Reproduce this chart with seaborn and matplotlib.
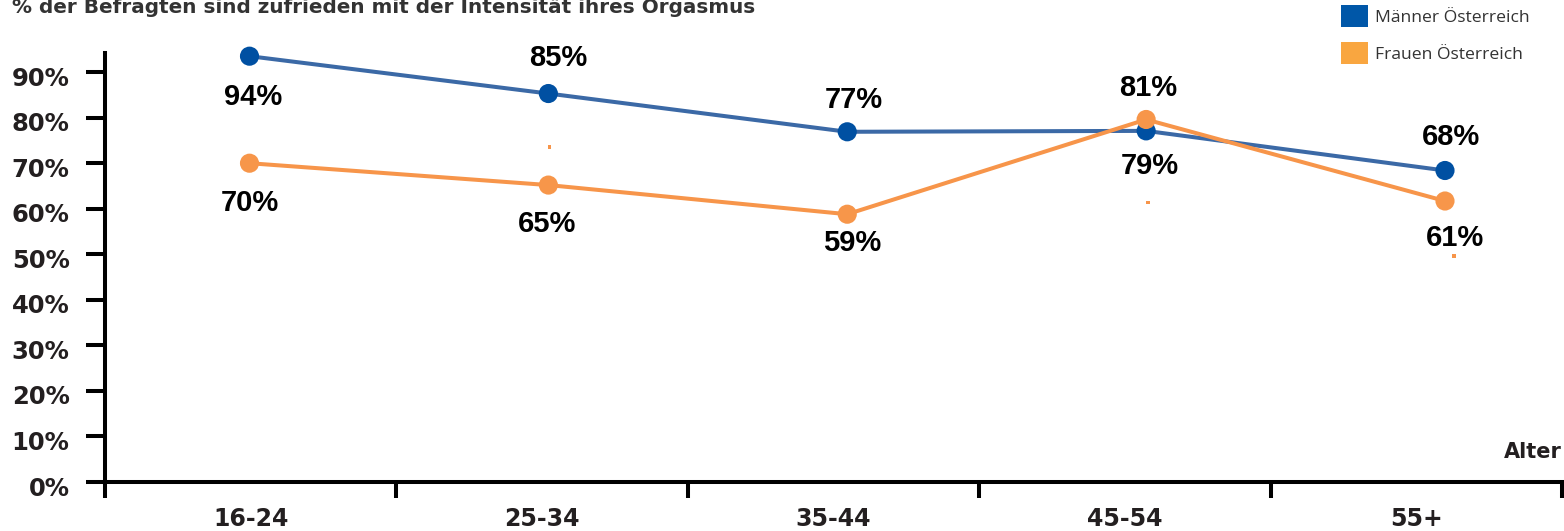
import numpy as np
import pandas as pd
import matplotlib
matplotlib.use("Agg")
import matplotlib.pyplot as plt
import seaborn as sns
from matplotlib.patches import Patch
from matplotlib.transforms import ScaledTranslation

# ---------------- data ----------------
categories = ["16-24", "25-34", "35-44", "45-54", "55+"]
men_values = [93.5, 85.3, 76.9, 77.1, 68.4]
women_values = [70.0, 65.2, 58.8, 79.6, 61.7]
men_labels = ["94%", "85%", "77%", "79%", "68%"]
women_labels = ["70%", "65%", "59%", "81%", "61%"]
series_names = ["Männer Österreich", "Frauen Österreich"]
y_ticks = [0, 10, 20, 30, 40, 50, 60, 70, 80, 90]
y_tick_labels = ["0%", "10%", "20%", "30%", "40%", "50%", "60%", "70%", "80%", "90%"]
title_text = "% der Befragten sind zufrieden mit der Intensität ihres Orgasmus"
x_axis_label = "Alter"

# ---------------- style ----------------
sns.set_style("white")
plt.rcParams["font.family"] = ["DejaVu Sans"]

line_colors = {series_names[0]: "#3b69a6", series_names[1]: "#f7954a"}
marker_colors = {series_names[0]: "#0050a2", series_names[1]: "#f7964a"}
legend_colors = ["#0057a8", "#f9a640"]
tick_color = "#231f20"

# label offsets in pixels (dx right, dy down) relative to each point
men_label_offsets = [(4, 41), (10, -36), (7, -32), (4, 35), (6, -33)]
women_label_offsets = [(0, 40), (-1, 39), (5, 29), (2, -31), (10, 37)]
women_dash_offsets = {1: (1, -38), 3: (2, 83), 4: (9, 55)}

W, H, DPI = 1564, 531, 100
fig = plt.figure(figsize=(W / DPI, H / DPI), dpi=DPI)
ax_left, ax_right, ax_bottom, ax_top = 105, 1562, 482, 53
ax = fig.add_axes([ax_left / W, 1 - ax_bottom / H, (ax_right - ax_left) / W, (ax_bottom - ax_top) / H])

pos = np.arange(len(categories))
df = pd.DataFrame({
    "pos": np.concatenate([pos, pos]),
    "value": men_values + women_values,
    "series": [series_names[0]] * len(pos) + [series_names[1]] * len(pos),
})

sns.lineplot(data=df, x="pos", y="value", hue="series", palette=line_colors,
             linewidth=2.9, legend=False, ax=ax, sort=False, zorder=2)
sns.scatterplot(data=df, x="pos", y="value", hue="series", palette=marker_colors,
                s=190, edgecolor="none", linewidth=0, legend=False, ax=ax, zorder=3,
                clip_on=False)
for ln in ax.lines:
    ln.set_clip_on(False)

# axis limits: first point at ~249.5 px, last at ~1445 px
first_px, last_px = 249.5, 1445
unit = (last_px - first_px) / (len(categories) - 1)
x0 = -(first_px - ax_left) / unit
x1 = (len(categories) - 1) + (ax_right - last_px) / unit
ax.set_xlim(x0, x1)
ax.set_ylim(0, 94.2)

# spines
for s in ["top", "right"]:
    ax.spines[s].set_visible(False)
for s in ["left", "bottom"]:
    ax.spines[s].set_linewidth(2.9)
    ax.spines[s].set_color("black")

# y ticks
ax.set_yticks(y_ticks)
ax.set_yticklabels(y_tick_labels)
ax.tick_params(axis="y", which="major", left=True, direction="out", length=13.5, width=2.9,
               color="black", pad=12, labelsize=17.5, labelcolor=tick_color)
for lab in ax.get_yticklabels():
    lab.set_fontweight("bold")
    lab.set_transform(lab.get_transform() + ScaledTranslation(0, -4 / DPI, fig.dpi_scale_trans))

# x ticks: boundaries as major ticks, labels at interval centres as minor
bounds = np.linspace(x0, x1, len(categories) + 1)
centres = (bounds[:-1] + bounds[1:]) / 2
ax.set_xticks(bounds)
ax.set_xticklabels([""] * len(bounds))
ax.set_xticks(centres, minor=True)
ax.set_xticklabels(categories, minor=True)
ax.tick_params(axis="x", which="major", bottom=True, direction="out", length=11.5, width=2.9,
               color="black")
ax.tick_params(axis="x", which="minor", bottom=True, length=0, pad=18, labelsize=17,
               labelcolor=tick_color)
for lab in ax.get_xticklabels(minor=True):
    lab.set_fontweight("bold")
ax.set_xlabel("")
ax.set_ylabel("")

# "Alter" label
ax.text(1.0, (482 - 452) / (482 - 53), x_axis_label, transform=ax.transAxes,
        ha="right", va="center", fontsize=15, fontweight="bold", color=tick_color)

# data labels
def px_offset(dx, dy):
    return ax.transData + ScaledTranslation(dx / DPI, -dy / DPI, fig.dpi_scale_trans)

for i, (v, t) in enumerate(zip(men_values, men_labels)):
    dx, dy = men_label_offsets[i]
    ax.text(pos[i], v, t, transform=px_offset(dx, dy), ha="center", va="center",
            fontsize=21, fontweight="bold", color="black",
            family=["Liberation Sans", "DejaVu Sans"], zorder=5)
for i, (v, t) in enumerate(zip(women_values, women_labels)):
    dx, dy = women_label_offsets[i]
    ax.text(pos[i], v, t, transform=px_offset(dx, dy), ha="center", va="center",
            fontsize=21, fontweight="bold", color="black",
            family=["Liberation Sans", "DejaVu Sans"], zorder=5)
for i, (dx, dy) in women_dash_offsets.items():
    ax.scatter([pos[i]], [women_values[i]], marker="s", s=6, color=line_colors[series_names[1]],
               edgecolor="none", transform=px_offset(dx, dy), zorder=4, clip_on=False)

# title (clipped at top)
fig.text(12 / W, 1 - 13.3 / H, title_text, ha="left", va="baseline", fontsize=14.4,
         fontweight="bold", color="#333333", family=["DejaVu Sans"])

# legend
handles = [Patch(facecolor=c, edgecolor="none") for c in legend_colors]
leg = fig.legend(handles, series_names, loc="upper left",
                 bbox_to_anchor=(1341 / W, 1 - 5 / H), bbox_transform=fig.transFigure,
                 frameon=False, borderpad=0, borderaxespad=0,
                 handlelength=1.52, handleheight=1.52, handletextpad=0.45,
                 labelspacing=0.9, prop={"family": ["Open Sans", "DejaVu Sans"], "size": 12.6})
for t in leg.get_texts():
    t.set_color("#333333")

fig.savefig("out.png", dpi=DPI)
